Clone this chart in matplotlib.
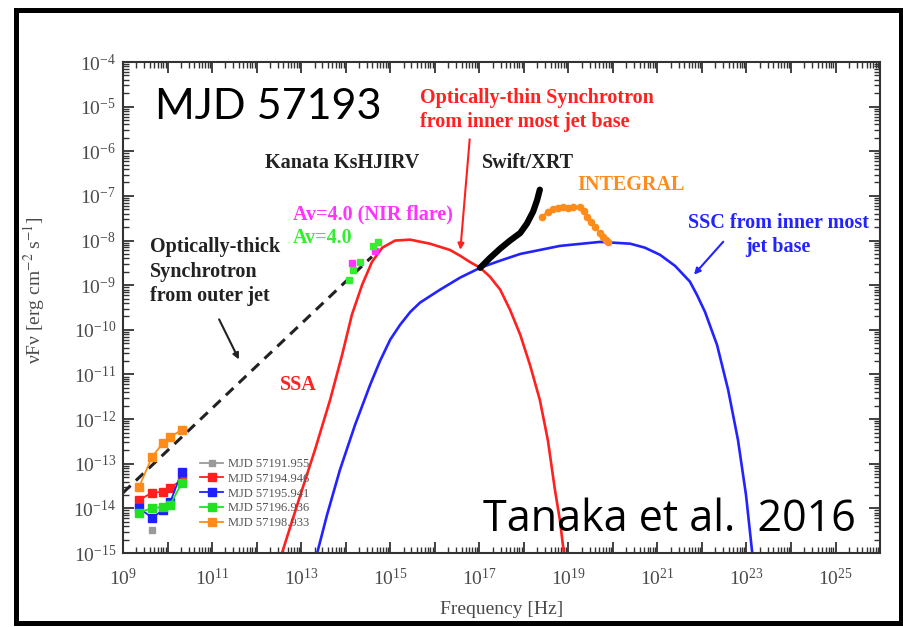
import matplotlib
matplotlib.use("Agg")

import matplotlib.pyplot as plt
from matplotlib.ticker import LogLocator, FuncFormatter, NullFormatter
from matplotlib.patches import Rectangle
import numpy as np

plt.rcParams['font.family'] = ['Liberation Serif', 'DejaVu Serif']
plt.rcParams['mathtext.fontset'] = 'stix'

# --- data (log10 of frequency [Hz] and of nuFnu [erg cm^-2 s^-1]) ---

# radio monitoring
radio_lognu = [9.36, 9.65, 9.90, 10.06, 10.32]
radio_labels = ["MJD 57191.955", "MJD 57194.946", "MJD 57195.941", "MJD 57196.936", "MJD 57198.933"]
radio_colors = ["#9a9a9a", "#ff1f1f", "#1f1fff", "#22e022", "#ff8c1a"]
radio_logf_191 = [np.nan, -14.48, np.nan, np.nan, np.nan]
radio_logf_194 = [-13.81, -13.65, -13.63, -13.54, -13.36]
radio_logf_195 = [-13.99, -14.21, -14.04, -13.86, -13.18]
radio_logf_196 = [-14.10, -13.99, -13.97, -13.92, -13.43]
radio_logf_198 = [-13.52, -12.85, -12.53, -12.40, -12.24]

# optically-thick synchrotron from outer jet (dashed)
thick_lognu = [9.0, 14.59]
thick_logf = [-13.65, -8.36]

# optically-thin synchrotron (red)
sync_lognu = [12.57, 12.97, 13.31, 13.65, 13.92, 14.14, 14.37, 14.59, 14.82, 15.11, 15.45, 15.89, 16.34,
              16.57, 16.79, 17.02, 17.24, 17.47, 17.69, 17.92, 18.14, 18.36, 18.54, 18.70, 18.81, 18.90]
sync_logf = [-15.0, -13.74, -12.69, -11.57, -10.56, -9.66, -8.99, -8.48, -8.16, -8.00, -7.98, -8.07, -8.21,
             -8.34, -8.48, -8.61, -8.81, -9.10, -9.55, -10.11, -10.79, -11.57, -12.47, -13.59, -14.26, -15.0]

# SSC (blue)
ssc_lognu = [13.36, 13.58, 13.87, 14.21, 14.55, 14.77, 15.00, 15.22, 15.45, 15.67, 16.12, 16.57, 17.02,
             17.47, 17.92, 18.81, 19.71, 20.39, 20.72, 21.06, 21.40, 21.73, 21.89, 22.07, 22.34, 22.59,
             22.81, 22.99, 23.13]
ssc_logf = [-15.0, -14.15, -13.14, -12.13, -11.23, -10.70, -10.22, -9.89, -9.60, -9.39, -9.10, -8.83, -8.61,
            -8.45, -8.30, -8.12, -8.03, -8.07, -8.16, -8.32, -8.57, -8.92, -9.22, -9.60, -10.34, -11.35,
            -12.47, -13.70, -15.0]

# Kanata NIR/optical
nir_flare_lognu = [14.14, 14.66]
nir_flare_logf = [-8.50, -8.23]
kanata_lognu = [14.08, 14.16, 14.32, 14.61, 14.73]
kanata_logf = [-8.88, -8.65, -8.48, -8.12, -8.03]

# Swift/XRT
xrt_lognu = [17.02, 17.24, 17.47, 17.69, 17.92, 18.07, 18.21, 18.30, 18.36]
xrt_logf = [-8.61, -8.39, -8.18, -8.00, -7.83, -7.62, -7.35, -7.09, -6.86]

# INTEGRAL
integral_lognu = [18.41, 18.54, 18.66, 18.77, 18.88, 18.99, 19.11, 19.26, 19.35, 19.42, 19.51, 19.60,
                  19.71, 19.78, 19.85, 19.89]
integral_logf = [-7.47, -7.35, -7.29, -7.26, -7.24, -7.26, -7.24, -7.24, -7.33, -7.47, -7.58, -7.69,
                 -7.83, -7.91, -7.98, -8.03]


def p(lognu, logf):
    return 10.0 ** np.array(lognu), 10.0 ** np.array(logf)


fig = plt.figure(figsize=(9.04, 6.27), dpi=100)
ax = fig.add_axes([0.1361, 0.1180, 0.8374, 0.7831])
ax.set_xscale("log")
ax.set_yscale("log")

# model curves
ax.plot(*p(thick_lognu, thick_logf), color="#222222", lw=2.2, dashes=(3.4, 2.4))
ax.plot(*p(sync_lognu, sync_logf), color="#ff2020", lw=1.9)
ax.plot(*p(ssc_lognu, ssc_logf), color="#2323ff", lw=1.9)

# data
ax.plot(*p(xrt_lognu, xrt_logf), color="black", lw=4.5, solid_capstyle="round")
ax.plot(*p(integral_lognu, integral_logf), color="#ff8c1a", lw=1.5, marker="o", ms=4.5)
ax.plot(*p(nir_flare_lognu, nir_flare_logf), ls="none", color="#ff33ff", marker="s", ms=4.5)
ax.plot(*p(kanata_lognu, kanata_logf), ls="none", color="#33ee33", marker="s", ms=4.5)

radio_sets = [radio_logf_191, radio_logf_194, radio_logf_195, radio_logf_196, radio_logf_198]
for logf, lab, col in zip(radio_sets, radio_labels, radio_colors):
    ms = 4 if col == "#9a9a9a" else 6
    ax.plot(*p(radio_lognu, logf), color=col, lw=1.3, marker="s", ms=ms, label=lab)

leg = ax.legend(loc="upper left", bbox_to_anchor=(0.1017, 0.1934), frameon=False, fontsize=9,
                handlelength=1.85, handletextpad=0.4, labelspacing=0.22, borderpad=0, borderaxespad=0)
for t in leg.get_texts():
    t.set_color("#555555")

# axes
ax.set_xlim(1e9, 1e26)
ax.set_ylim(1e-15, 1e-4)
ax.xaxis.set_major_locator(LogLocator(base=10, numticks=40))
ax.xaxis.set_minor_locator(LogLocator(base=10, subs=np.arange(2, 10), numticks=40))
ax.yaxis.set_major_locator(LogLocator(base=10, numticks=40))
ax.yaxis.set_minor_locator(LogLocator(base=10, subs=np.arange(2, 10), numticks=40))


def xfmt(v, pos):
    e = int(round(np.log10(v)))
    return r"$\mathdefault{10^{%d}}$" % e if e % 2 == 1 else ""


def yfmt(v, pos):
    e = int(round(np.log10(v)))
    return r"$\mathdefault{10^{%d}}$" % e


ax.xaxis.set_major_formatter(FuncFormatter(xfmt))
ax.yaxis.set_major_formatter(FuncFormatter(yfmt))
ax.xaxis.set_minor_formatter(NullFormatter())
ax.yaxis.set_minor_formatter(NullFormatter())
ax.tick_params(which="both", direction="in", top=True, right=True, color="#333333", labelcolor="#4a4a4a",
               labelsize=14)
ax.tick_params(which="major", length=8, width=1.3)
ax.tick_params(which="minor", length=4, width=1.0)
ax.tick_params(axis="x", which="major", pad=11)
ax.tick_params(axis="y", which="major", pad=5)
for s in ax.spines.values():
    s.set_linewidth(1.5)
    s.set_color("#333333")

ax.set_xlabel("Frequency [Hz]", fontsize=14, color="#4a4a4a")
ax.set_ylabel("νFν [erg cm$^{-2}$ s$^{-1}$]", fontsize=14, color="#4a4a4a")
ax.xaxis.set_label_coords(0.5, -0.098)
ax.yaxis.set_label_coords(-0.10, 0.536)

# annotations
bold = dict(fontweight="bold", fontsize=14.5)
ax.text(10 ** 15.67, 10 ** -5.07, "Optically-thin Synchrotron\nfrom inner most jet base", color="#ff2020",
        ha="left", va="center", linespacing=1.3, **bold)
ax.annotate("", xy=(10 ** 16.57, 10 ** -8.27), xytext=(10 ** 16.79, 10 ** -5.67),
            arrowprops=dict(arrowstyle="-|>", color="#ff2020", lw=1.5, mutation_scale=9))
ax.text(10 ** 12.19, 10 ** -6.26, "Kanata KsHJIRV", color="#222222", ha="left", va="center", **bold)
ax.text(10 ** 17.06, 10 ** -6.26, "Swift/XRT", color="#222222", ha="left", va="center", **bold)
ax.text(10 ** 19.20, 10 ** -6.75, "INTEGRAL", color="#ff8c1a", ha="left", va="center", **bold)
ax.text(10 ** 23.71, 10 ** -7.87, "SSC from inner most\njet base", color="#2323ff", ha="center", va="center",
        linespacing=1.3, **bold)
ax.annotate("", xy=(10 ** 21.78, 10 ** -8.81), xytext=(10 ** 22.52, 10 ** -7.98),
            arrowprops=dict(arrowstyle="-|>", color="#2323ff", lw=1.5, mutation_scale=9))
ax.text(10 ** 12.82, 10 ** -7.42, "Av=4.0 (NIR flare)", color="#ff33ff", ha="left", va="center", **bold)
ax.text(10 ** 12.82, 10 ** -7.94, "Av=4.0", color="#33ee33", ha="left", va="center", **bold)
ax.text(10 ** 9.61, 10 ** -8.70, "Optically-thick\nSynchrotron\nfrom outer jet", color="#222222",
        ha="left", va="center", linespacing=1.3, **bold)
ax.annotate("", xy=(10 ** 11.63, 10 ** -10.72), xytext=(10 ** 11.13, 10 ** -9.71),
            arrowprops=dict(arrowstyle="-|>", color="#222222", lw=1.5, mutation_scale=9))
ax.text(10 ** 12.53, 10 ** -11.23, "SSA", color="#ff2020", ha="left", va="center", **bold)

ax.text(10 ** 9.72, 10 ** -5.0, "MJD 57193", family="Lato", fontsize=31, color="black",
        ha="left", va="center")
ax.text(10 ** 17.08, 10 ** -14.26, "Tanaka et al.  2016", family="Open Sans", fontsize=31, color="black",
        ha="left", va="center")

fig.add_artist(Rectangle((0.01715, 0.0056), 0.9795, 0.9792, transform=fig.transFigure, fill=False,
                         lw=3.6, ec="black"))

fig.savefig("out.png", dpi=100)
